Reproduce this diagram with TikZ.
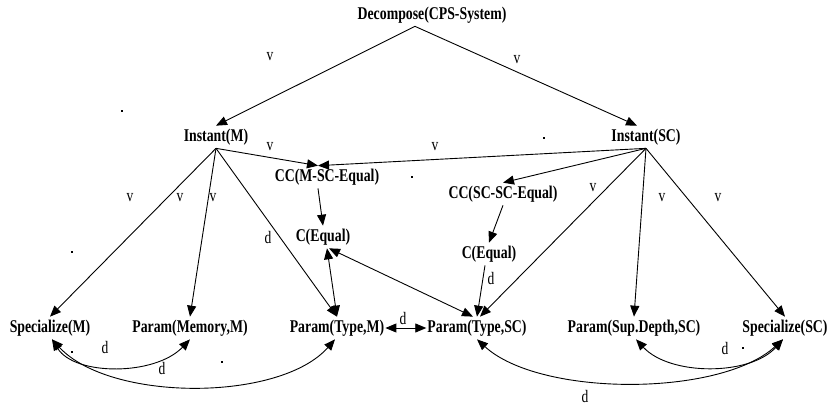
\documentclass[tikz,border=0pt]{standalone}
\usepackage{fontspec}
\usepackage{graphicx}
\setmainfont{Liberation Serif}
\usetikzlibrary{arrows.meta}
\newcommand{\tx}[1]{\scalebox{1}[1.3]{#1}}
\tikzset{
  lab/.style={font=\bfseries\fontsize{13.8}{16}\selectfont, inner xsep=1pt, inner ysep=3pt},
  elab/.style={font=\fontsize{13.5}{15}\selectfont, inner sep=0pt},
  arr/.style={draw, line width=0.9pt, -{Triangle[length=11pt,width=9pt]}},
  darr/.style={draw, line width=0.9pt, {Triangle[length=11pt,width=9pt]}-{Triangle[length=11pt,width=9pt]}},
  dot/.style={fill=black, inner sep=0pt, minimum size=1.5pt}
}
\begin{document}
\begin{tikzpicture}[x=1pt,y=-1pt]
\useasboundingbox (0,0) rectangle (828,407);
% nodes
\node[lab] (dec) at (432,15) {\tx{Decompose(CPS-System)}};
\node[lab] (im) at (216,137) {\tx{Instant(M)}};
\node[lab] (isc) at (646,137) {\tx{Instant(SC)}};
\node[lab] (cc1) at (327,177) {\tx{CC(M-SC-Equal)}};
\node[lab] (cc2) at (503,194) {\tx{CC(SC-SC-Equal)}};
\node[lab] (ce1) at (323,237) {\tx{C(Equal)}};
\node[lab] (ce2) at (489,254) {\tx{C(Equal)}};
\node[lab] (spm) at (50,328) {\tx{Specialize(M)}};
\node[lab] (pmm) at (190,328) {\tx{Param(Memory,M)}};
\node[lab] (ptm) at (337,328) {\tx{Param(Type,M)}};
\node[lab] (pts) at (477,328) {\tx{Param(Type,SC)}};
\node[lab] (psd) at (634,328) {\tx{Param(Sup.Depth,SC)}};
\node[lab] (spsc) at (785,328) {\tx{Specialize(SC)}};
% edges
\draw[arr] ([xshift=-17pt]dec.south) -- (im.north);
\draw[arr] ([xshift=-17pt]dec.south) -- ([xshift=-9pt]isc.north);
\draw[arr] (im.south) -- ([xshift=-9pt]cc1.north);
\draw[arr] (isc.south) -- ([xshift=-9pt]cc1.north);
\draw[arr] (isc.south) -- (cc2.north);
\draw[arr] (im.south) -- (spm.north);
\draw[arr] (im.south) -- (pmm.north);
\draw[arr] (im.south) -- (ptm.north);
\draw[arr] ([xshift=-9pt]cc1.south) -- (ce1.north);
\draw[darr] ([xshift=4pt]ce1.south) -- (ptm.north);
\draw[darr] ([xshift=6pt]ce1.south) -- ([xshift=-4pt]pts.north);
\draw[arr] (cc2.south) -- (ce2.north);
\draw[arr] ([xshift=-4pt]ce2.south) -- (pts.north);
\draw[arr] (isc.south) -- ([xshift=3pt]pts.north);
\draw[arr] (isc.south) -- (psd.north);
\draw[arr] (isc.south) -- (spsc.north);
\draw[darr] (ptm.east) -- (pts.west);
\draw[darr] ([xshift=2pt]spm.south) .. controls (75,376) and (155,376) .. (pmm.south);
\draw[darr] ([xshift=2pt]spm.south) .. controls (110,402) and (280,402) .. ([xshift=-2pt]ptm.south);
\draw[darr] (pts.south) .. controls (540,397) and (720,397) .. ([xshift=-2pt]spsc.south);
\draw[darr] ([xshift=2pt]psd.south) .. controls (670,376) and (750,376) .. ([xshift=-2pt]spsc.south);
% edge labels
\node[elab] (l1) at (270,57) {\tx{v}};
\node[elab] (l2) at (517,60) {\tx{v}};
\node[elab] (l3) at (270,147) {\tx{v}};
\node[elab] (l4) at (435,147) {\tx{v}};
\node[elab] (l5) at (130,198) {\tx{v}};
\node[elab] (l6) at (180,198) {\tx{v}};
\node[elab] (l7) at (213,198) {\tx{v}};
\node[elab] (l8) at (268,237) {\tx{d}};
\node[elab] (l9) at (491,278) {\tx{d}};
\node[elab] (l10) at (593,188) {\tx{v}};
\node[elab] (l11) at (662,198) {\tx{v}};
\node[elab] (l12) at (718,198) {\tx{v}};
\node[elab] (l13) at (403,318) {\tx{d}};
\node[elab] (l14) at (105,347) {\tx{d}};
\node[elab] (l15) at (162,368) {\tx{d}};
\node[elab] (l16) at (585,396) {\tx{d}};
\node[elab] (l17) at (725,348) {\tx{d}};
% stray marks
\node[dot] (s1) at (122,111) {};
\node[dot] (s2) at (412,177) {};
\node[dot] (s3) at (544,138) {};
\node[dot] (s4) at (72,252) {};
\node[dot] (s5) at (72,352) {};
\node[dot] (s6) at (222,362) {};
\node[dot] (s7) at (743,348) {};
\end{tikzpicture}
\end{document}
